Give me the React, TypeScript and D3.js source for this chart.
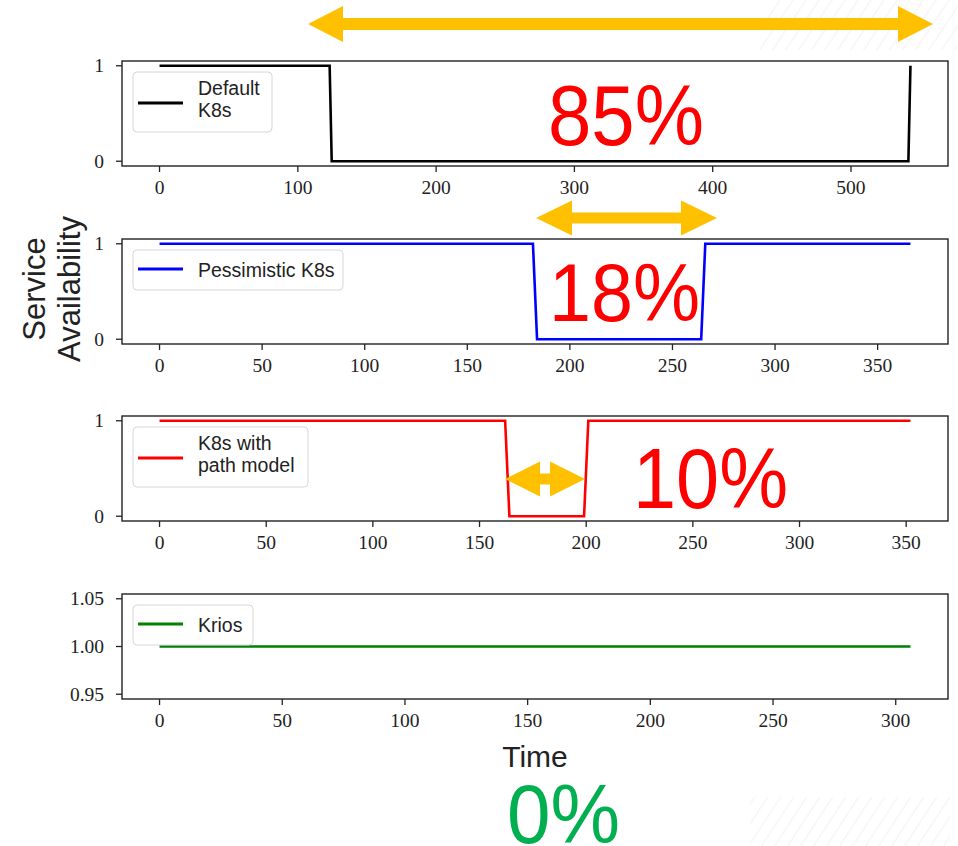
import React from "react";
import * as d3 from "d3";

// ---- data ----
const defaultTime = [0, 123, 124.5, 541.5, 543];
const defaultVal = [1, 1, 0, 0, 1];
const pessTime = [0, 182, 184, 264, 266, 366];
const pessVal = [1, 1, 0, 0, 1, 1];
const pathTime = [0, 162, 164, 199, 201, 352];
const pathVal = [1, 1, 0, 0, 1, 1];
const kriosTime = [0, 306];
const kriosVal = [1, 1];

const xTicks1 = [0, 100, 200, 300, 400, 500];
const xTicks2 = [0, 50, 100, 150, 200, 250, 300, 350];
const xTicks3 = [0, 50, 100, 150, 200, 250, 300, 350];
const xTicks4 = [0, 50, 100, 150, 200, 250, 300];
const yTicksBin = [0, 1];
const yTickLabelsBin = ["0", "1"];
const yTicksK = [0.95, 1.0, 1.05];
const yTickLabelsK = ["0.95", "1.00", "1.05"];

const legend1 = ["Default", "K8s"];
const legend2 = ["Pessimistic K8s"];
const legend3 = ["K8s with", "path model"];
const legend4 = ["Krios"];

const percentLabels = ["85%", "18%", "10%", "0%"];

const W = 958;
const H = 846;
const L = 122;
const R = 948;
const PH = 105;
const tops = [61, 239, 416, 594];

const serif = "'Liberation Serif', 'Times New Roman', serif";
const sans = "'Liberation Sans', Arial, sans-serif";

type Panel = {
  t: number[];
  v: number[];
  color: string;
  xTicks: number[];
  yTicks: number[];
  yLabels: string[];
  legend: string[];
  legendW: number;
  yDomain: [number, number];
};

const panels: Panel[] = [
  { t: defaultTime, v: defaultVal, color: "#000000", xTicks: xTicks1, yTicks: yTicksBin, yLabels: yTickLabelsBin, legend: legend1, legendW: 139, yDomain: [-0.05, 1.05] },
  { t: pessTime, v: pessVal, color: "#0000ff", xTicks: xTicks2, yTicks: yTicksBin, yLabels: yTickLabelsBin, legend: legend2, legendW: 210, yDomain: [-0.05, 1.05] },
  { t: pathTime, v: pathVal, color: "#ff0000", xTicks: xTicks3, yTicks: yTicksBin, yLabels: yTickLabelsBin, legend: legend3, legendW: 175, yDomain: [-0.05, 1.05] },
  { t: kriosTime, v: kriosVal, color: "#008000", xTicks: xTicks4, yTicks: yTicksK, yLabels: yTickLabelsK, legend: legend4, legendW: 120, yDomain: [0.945, 1.055] },
];

function arrowPath(x1: number, x2: number, y: number, head: number, hh: number, sh: number) {
  return [
    `M${x1},${y}`,
    `L${x1 + head},${y - hh}`,
    `L${x1 + head},${y - sh}`,
    `L${x2 - head},${y - sh}`,
    `L${x2 - head},${y - hh}`,
    `L${x2},${y}`,
    `L${x2 - head},${y + hh}`,
    `L${x2 - head},${y + sh}`,
    `L${x1 + head},${y + sh}`,
    `L${x1 + head},${y + hh}`,
    "Z",
  ].join(" ");
}

function PanelView({ p, top }: { p: Panel; top: number }) {
  const tMax = d3.max(p.t) as number;
  const tMin = d3.min(p.t) as number;
  const m = (tMax - tMin) * 0.05;
  const x = d3.scaleLinear().domain([tMin - m, tMax + m]).range([L, R]);
  const y = d3.scaleLinear().domain(p.yDomain).range([top + PH, top]);
  const pts = p.t.map((t, i) => [t, p.v[i]] as [number, number]);
  const line = d3
    .line<[number, number]>()
    .x((d) => x(d[0]))
    .y((d) => y(d[1]));
  const bottom = top + PH;
  const lx = L + 11;
  const ly = top + 11;
  const two = p.legend.length === 2;
  const lh = two ? 60 : 40;
  const sampleY = ly + lh / 2 + (two ? 1 : -1);
  return (
    <g>
      <path d={line(pts) || ""} fill="none" stroke={p.color} strokeWidth={2.6} strokeLinejoin="miter" />
      <rect x={L} y={top} width={R - L} height={PH} fill="none" stroke="#222" strokeWidth={1.4} />
      {p.xTicks.map((t) => (
        <g key={"x" + t}>
          <line x1={x(t)} x2={x(t)} y1={bottom} y2={bottom + 6} stroke="#222" strokeWidth={1.3} />
          <text x={x(t)} y={bottom + 28} textAnchor="middle" fontFamily={serif} fontSize={19.5} fill="#222">
            {t}
          </text>
        </g>
      ))}
      {p.yTicks.map((t, i) => (
        <g key={"y" + t}>
          <line x1={L - 6} x2={L} y1={y(t)} y2={y(t)} stroke="#222" strokeWidth={1.3} />
          <text x={104} y={y(t) + 6.5} textAnchor="end" fontFamily={serif} fontSize={19.5} fill="#222">
            {p.yLabels[i]}
          </text>
        </g>
      ))}
      <rect x={lx} y={ly} width={p.legendW} height={lh} rx={4} ry={4} fill="#ffffff" fillOpacity={0.8} stroke="#d6d6d6" strokeWidth={1} />
      <line x1={lx + 5} x2={lx + 50} y1={sampleY} y2={sampleY} stroke={p.color} strokeWidth={2.8} />
      {p.legend.map((s, i) => (
        <text key={s} x={lx + 65} y={ly + (two ? 23 + i * 22 : 27)} fontFamily={sans} fontSize={19.5} fill="#222">
          {s}
        </text>
      ))}
    </g>
  );
}

export default function App() {
  const hatchLines: number[] = d3.range(0, 40);
  return (
    <svg width={W} height={H} style={{ position: "absolute", left: 0, top: 0, background: "#fff" }}>
      <defs>
        <clipPath id="hatchTop">
          <rect x={760} y={0} width={198} height={50} />
        </clipPath>
        <clipPath id="hatchBot">
          <rect x={750} y={797} width={200} height={49} />
        </clipPath>
      </defs>
      <rect x={0} y={0} width={W} height={H} fill="#fff" />
      <g clipPath="url(#hatchTop)" stroke="#f6f6f6" strokeWidth={1.5}>
        {hatchLines.map((i) => (
          <line key={"ht" + i} x1={740 + i * 13} y1={60} x2={740 + i * 13 + 40} y2={0} />
        ))}
      </g>
      <g clipPath="url(#hatchBot)" stroke="#f6f6f6" strokeWidth={1.5}>
        {hatchLines.map((i) => (
          <line key={"hb" + i} x1={720 + i * 13} y1={850} x2={720 + i * 13 + 36} y2={795} />
        ))}
      </g>

      {panels.map((p, i) => (
        <PanelView key={i} p={p} top={tops[i]} />
      ))}

      <text transform="translate(45,289) rotate(-90)" textAnchor="middle" fontFamily={sans} fontSize={31} fill="#222">
        Service
      </text>
      <text transform="translate(80,289) rotate(-90)" textAnchor="middle" fontFamily={sans} fontSize={31} fill="#222">
        Availability
      </text>
      <text x={(L + R) / 2} y={767} textAnchor="middle" fontFamily={sans} fontSize={30} fill="#222">
        Time
      </text>

      <path d={arrowPath(308, 933, 24, 35, 18, 6)} fill="#FFC000" />
      <path d={arrowPath(536, 717, 218, 36, 17.5, 5.5)} fill="#FFC000" />
      <path d={arrowPath(505, 585, 479, 35, 17.5, 5.5)} fill="#FFC000" />

      <text x={548} y={145} fontFamily={sans} fontSize={86} fill="#FF0000" textLength={156} lengthAdjust="spacingAndGlyphs">
        {percentLabels[0]}
      </text>
      <text x={549} y={321} fontFamily={sans} fontSize={82} fill="#FF0000" textLength={151} lengthAdjust="spacingAndGlyphs">
        {percentLabels[1]}
      </text>
      <text x={633} y={508} fontFamily={sans} fontSize={85} fill="#FF0000" textLength={155} lengthAdjust="spacingAndGlyphs">
        {percentLabels[2]}
      </text>
      <text x={507} y={843} fontFamily={sans} fontSize={83} fill="#00B050" textLength={113} lengthAdjust="spacingAndGlyphs">
        {percentLabels[3]}
      </text>
    </svg>
  );
}
